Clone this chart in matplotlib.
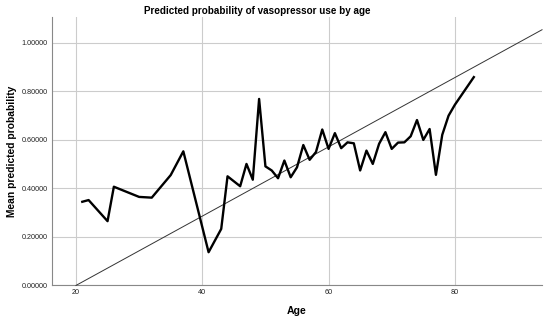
import matplotlib
matplotlib.use('Agg')
import matplotlib.pyplot as plt
from matplotlib.ticker import FormatStrFormatter

plt.rcParams['font.family'] = ['Liberation Sans', 'DejaVu Sans']

# =============================================================================
# DATOS
# =============================================================================
ages = [21, 22, 25, 26, 30, 32, 35, 37, 41, 43, 44, 46, 47, 48, 49, 50,
        51, 52, 53, 54, 55, 56, 57, 58, 59, 60, 61, 62, 63, 64, 65, 66,
        67, 68, 69, 70, 71, 72, 73, 74, 75, 76, 77, 78, 79, 80, 81, 82, 83]
mean_prob = [0.345, 0.352, 0.265, 0.407, 0.365, 0.362, 0.455, 0.553, 0.137,
             0.233, 0.450, 0.409, 0.501, 0.436, 0.769, 0.491, 0.474, 0.442,
             0.515, 0.446, 0.487, 0.579, 0.518, 0.550, 0.643, 0.563, 0.628,
             0.566, 0.590, 0.586, 0.474, 0.556, 0.501, 0.584, 0.632, 0.563,
             0.589, 0.590, 0.615, 0.682, 0.600, 0.645, 0.456, 0.621, 0.700,
             0.745, 0.783, 0.821, 0.859]

# línea de referencia: 0 a los 20 años, 1 a los 90
ref_x = [20, 93.8]
ref_y = [(x - 20) / 70 for x in ref_x]

y_ticks = [0.0, 0.2, 0.4, 0.6, 0.8, 1.0]
x_ticks = [20, 40, 60, 80]

# =============================================================================
# GRÁFICO
# =============================================================================
fig = plt.figure(figsize=(5.5, 3.2), dpi=100)
ax = fig.add_axes([0.0945, 0.108, 0.891, 0.839])

ax.set_xlim(16.2, 93.8)
ax.set_ylim(0, 1.107)
ax.set_xticks(x_ticks)
ax.set_yticks(y_ticks)
ax.yaxis.set_major_formatter(FormatStrFormatter('%.5f'))
ax.tick_params(length=0, labelsize=5.2, colors='#222222')
ax.tick_params(axis='y', pad=3)
ax.tick_params(axis='x', pad=2.5)

ax.grid(True, color='#cccccc', linewidth=0.8)
ax.set_axisbelow(True)
for s in ['top', 'right']:
    ax.spines[s].set_visible(False)
for s in ['left', 'bottom']:
    ax.spines[s].set_color('#888888')
    ax.spines[s].set_linewidth(0.8)

ax.plot(ref_x, ref_y, color='#333333', linewidth=0.7, zorder=3, clip_on=False)
ax.plot(ages, mean_prob, color='black', linewidth=1.7, zorder=4)

ax.set_xlabel('Age', fontsize=7.6, fontweight='bold')
ax.set_ylabel('Mean predicted probability', fontsize=7.4, fontweight='bold')
ax.xaxis.set_label_coords(0.5, -0.076)
ax.yaxis.set_label_coords(-0.0714, 0.5)
fig.text(0.467, 0.965, 'Predicted probability of vasopressor use by age',
         ha='center', va='center', fontsize=7.1, fontweight='bold')

fig.savefig('out.png', dpi=100)
